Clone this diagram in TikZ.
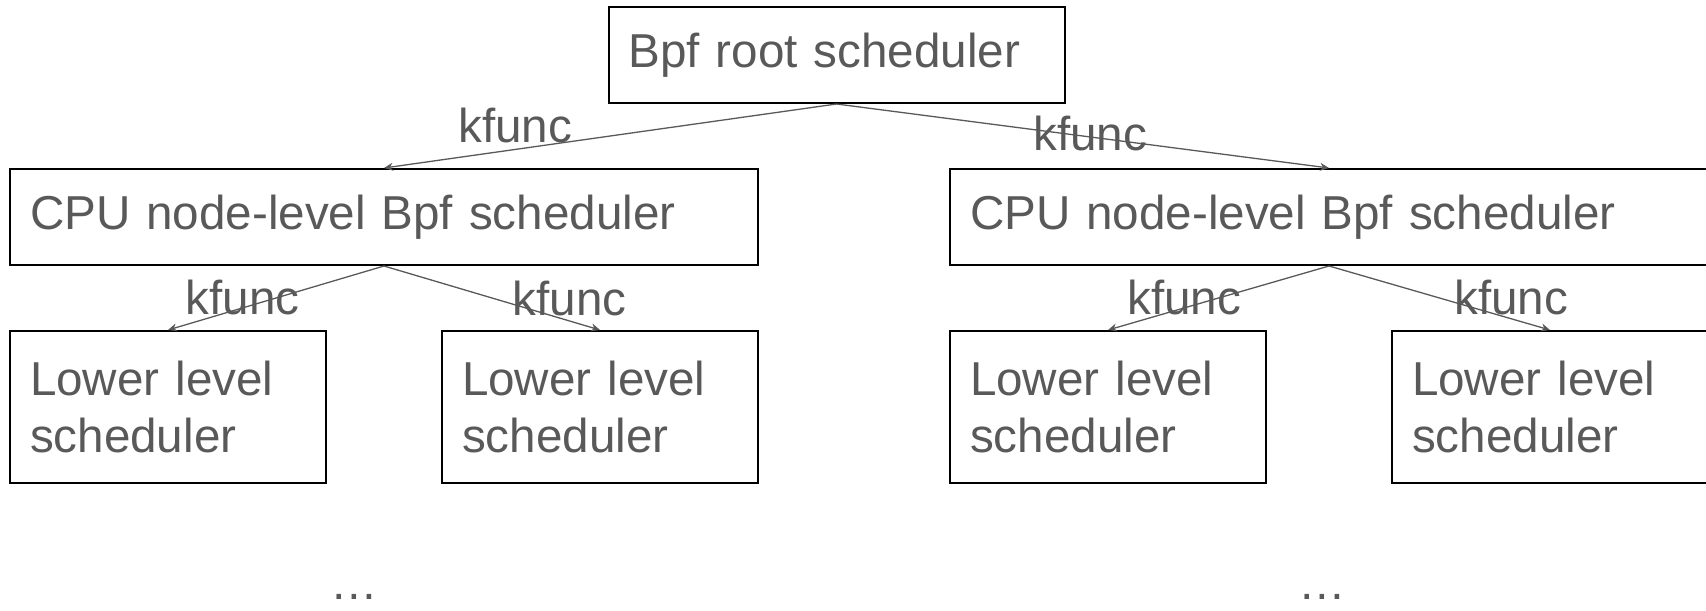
\documentclass[tikz,border=0pt]{standalone}
\usepackage{fontspec}
\setmainfont{Liberation Sans}
\usepackage{xcolor}
\usepackage{tikz}
\usetikzlibrary{arrows.meta, positioning}
\definecolor{slidegray}{HTML}{595959}

\begin{document}
\begin{tikzpicture}[x=0.5pt, y=-0.5pt,
    box/.style={rectangle, draw=black, line width=1pt, inner xsep=10pt, inner ysep=0pt, minimum height=48pt, align=left, text=slidegray, font=\fontsize{23.8}{28.5}\selectfont},
    lowbox/.style={box, text width=138pt, minimum height=76pt},
    lbl/.style={anchor=base, inner sep=0pt, text=slidegray, font=\fontsize{23.8}{28.5}\selectfont},
    arr/.style={-{Stealth[length=4.5pt, width=4pt]}, draw=slidegray, line width=0.65pt}]
    \useasboundingbox (0,0) rectangle (1706,610);
    \clip (0,0) rectangle (1706,610);

    \node[box, text width=208pt] (root) at (836.5,55) {Bpf root scheduler};
    \node[box, text width=354pt, below=32pt of root, xshift=-226.25pt] (cpuL) {CPU node-level Bpf scheduler};
    \node[box, text width=359pt, below=32pt of root, xshift=246.25pt] (cpuR) {CPU node-level Bpf scheduler};

    % lower level, aligned on the edges of the CPU boxes
    \node[lowbox, below right=32pt and 0pt of cpuL.south west] (lowLa) {Lower level\\scheduler};
    \node[lowbox, below left=32pt and 0pt of cpuL.south east] (lowLb) {Lower level\\scheduler};
    \node[lowbox, below right=32pt and 0pt of cpuR.south west] (lowRa) {Lower level\\scheduler};
    \node[lowbox, below left=32pt and 0pt of cpuR.south east] (lowRb) {Lower level\\scheduler};

    \node[lbl, text depth=0pt] (moreL) at (354,599) {…};
    \node[lbl, text depth=0pt] (moreR) at (1322,599) {…};

    % kfunc calls
    \draw[arr] (root.south) -- node[lbl, pos=0.71, yshift=3.5pt]{kfunc} (cpuL.north);
    \draw[arr] (root.south) -- node[lbl, pos=0.515, yshift=-7pt]{kfunc} (cpuR.north);
    \draw[arr] (cpuL.south) -- node[lbl, pos=0.655, yshift=-3.5pt]{kfunc} (lowLa.north);
    \draw[arr] (cpuL.south) -- node[lbl, pos=0.86, yshift=3pt]{kfunc} (lowLb.north);
    \draw[arr] (cpuR.south) -- node[lbl, pos=0.655, yshift=-3.5pt]{kfunc} (lowRa.north);
    \draw[arr] (cpuR.south) -- node[lbl, pos=0.825, yshift=2pt]{kfunc} (lowRb.north);
\end{tikzpicture}
\end{document}
